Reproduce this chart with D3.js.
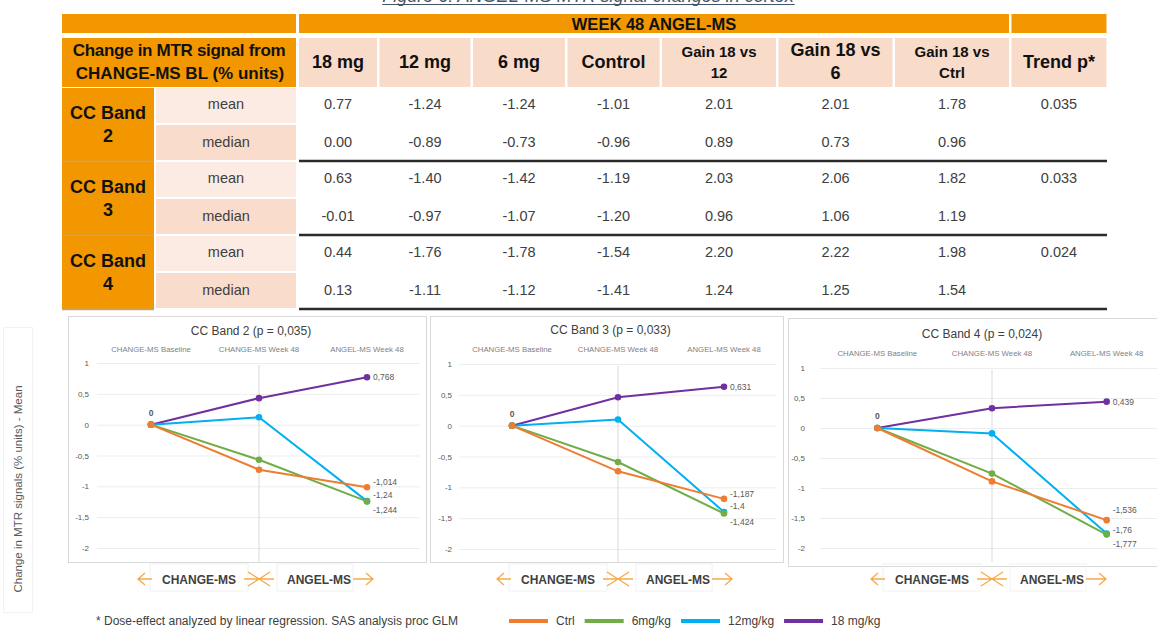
<!DOCTYPE html>
<html>
<head>
<meta charset="utf-8" />
<title>ANGEL-MS MTR signal changes in cortex</title>
<script src="https://cdn.jsdelivr.net/npm/d3@7"></script>
<style>
    body { margin: 0; background: #fff; }
    svg { display: block; font-family: "Liberation Sans", Arial, sans-serif; }
</style>
</head>
<body>
<svg id="chart" width="1157" height="628"></svg>
<script>
// ---- table values ----
var tableCols = ["18 mg", "12 mg", "6 mg", "Control", "Gain 18 vs|12", "Gain 18 vs|6", "Gain 18 vs|Ctrl", "Trend p*"];
var bands = ["2", "3", "4"];
var band2Mean = [0.77, -1.24, -1.24, -1.01, 2.01, 2.01, 1.78];
var band2Median = [0.00, -0.89, -0.73, -0.96, 0.89, 0.73, 0.96];
var band3Mean = [0.63, -1.40, -1.42, -1.19, 2.03, 2.06, 1.82];
var band3Median = [-0.01, -0.97, -1.07, -1.20, 0.96, 1.06, 1.19];
var band4Mean = [0.44, -1.76, -1.78, -1.54, 2.20, 2.22, 1.98];
var band4Median = [0.13, -1.11, -1.12, -1.41, 1.24, 1.25, 1.54];
var trendP = ["0.035", "0.033", "0.024"];

// ---- chart values (mean change, % units) ----
var timepoints = ["CHANGE-MS Baseline", "CHANGE-MS Week 48", "ANGEL-MS Week 48"];
var seriesNames = ["Ctrl", "6mg/kg", "12mg/kg", "18 mg/kg"];
var band2Lines = [[0, -0.73, -1.014], [0, -0.57, -1.244], [0, 0.12, -1.24], [0, 0.43, 0.768]];
var band3Lines = [[0, -0.74, -1.187], [0, -0.59, -1.424], [0, 0.10, -1.4], [0, 0.46, 0.631]];
var band4Lines = [[0, -0.89, -1.536], [0, -0.76, -1.777], [0, -0.09, -1.76], [0, 0.33, 0.439]];
var panelTitles = ["CC Band 2 (p = 0,035)", "CC Band 3 (p = 0,033)", "CC Band 4 (p = 0,024)"];
var yTicks = [1, 0.5, 0, -0.5, -1, -1.5, -2];

var colors = ["#ED7D31", "#70AD47", "#00B0F0", "#7030A0"];
var orange = "#F39700", peach = "#F9DBC9", meanFill = "#FCEBE3", medianFill = "#F9DCCB";
var textGrey = "#404040";

var svg = d3.select("#chart");
svg.append("rect").attr("width", 1157).attr("height", 628).attr("fill", "#fff");

// figure caption, mostly cut off at the top
var cap = svg.append("text").attr("x", 588).attr("y", 2).attr("text-anchor", "middle")
    .attr("font-size", 18).attr("font-style", "italic").attr("fill", "#44546A")
    .text("Figure 6: ANGEL-MS MTR signal changes in cortex");
var cb = cap.node().getBBox();
svg.append("line").attr("x1", cb.x).attr("x2", cb.x + cb.width).attr("y1", 4.5).attr("y2", 4.5)
    .attr("stroke", "#44546A").attr("stroke-width", 1.2);

// ---- table ----
var colW = [78, 91, 92, 92, 114, 114, 114, 95];
var colStart = [];
var acc = 299;
colW.forEach(function (w) { colStart.push(acc); acc += w + 2.5; });
var colMid = colStart.map(function (s, i) { return s + colW[i] / 2; });

// header row 1
svg.append("rect").attr("x", 62).attr("y", 14).attr("width", 234).attr("height", 19).attr("fill", orange);
svg.append("rect").attr("x", colStart[0]).attr("y", 14).attr("width", colStart[6] + colW[6] - colStart[0]).attr("height", 19).attr("fill", orange);
svg.append("rect").attr("x", colStart[7]).attr("y", 14).attr("width", colW[7]).attr("height", 19).attr("fill", orange);
svg.append("text").attr("x", (colStart[0] + colStart[6] + colW[6]) / 2).attr("y", 29.5)
    .attr("text-anchor", "middle").attr("font-weight", "bold").attr("font-size", 16.5).attr("fill", "#111")
    .text("WEEK 48 ANGEL-MS");

// header row 2
svg.append("rect").attr("x", 62).attr("y", 38).attr("width", 234).attr("height", 49).attr("fill", orange);
svg.append("text").attr("x", 179).attr("y", 56).attr("text-anchor", "middle").attr("font-weight", "bold")
    .attr("font-size", 17).attr("letter-spacing", -0.3).attr("fill", "#111").text("Change in MTR signal from");
svg.append("text").attr("x", 180).attr("y", 79).attr("text-anchor", "middle").attr("font-weight", "bold")
    .attr("font-size", 17).attr("fill", "#111").text("CHANGE-MS BL (% units)");

tableCols.forEach(function (c, i) {
    svg.append("rect").attr("x", colStart[i]).attr("y", 38).attr("width", colW[i]).attr("height", 49).attr("fill", peach);
    var parts = c.split("|");
    var fs = (i === 4 || i === 6) ? 15 : 18;
    if (parts.length === 1) {
        svg.append("text").attr("x", colMid[i]).attr("y", 68).attr("text-anchor", "middle")
            .attr("font-weight", "bold").attr("font-size", fs).attr("fill", "#111").text(parts[0]);
    } else {
        svg.append("text").attr("x", colMid[i]).attr("y", i === 5 ? 56 : 57).attr("text-anchor", "middle")
            .attr("font-weight", "bold").attr("font-size", fs).attr("fill", "#111").text(parts[0]);
        svg.append("text").attr("x", colMid[i]).attr("y", i === 5 ? 79 : 78).attr("text-anchor", "middle")
            .attr("font-weight", "bold").attr("font-size", fs).attr("fill", "#111").text(parts[1]);
    }
});

// body rows
var bandRows = [[band2Mean, band2Median], [band3Mean, band3Median], [band4Mean, band4Median]];
bandRows.forEach(function (rows, b) {
    var top = 88 + b * 74;
    svg.append("rect").attr("x", 62).attr("y", top).attr("width", 92).attr("height", 73).attr("fill", orange);
    svg.append("text").attr("x", 108).attr("y", top + 31).attr("text-anchor", "middle").attr("font-weight", "bold")
        .attr("font-size", 18).attr("fill", "#111").text("CC Band");
    svg.append("text").attr("x", 108).attr("y", top + 54).attr("text-anchor", "middle").attr("font-weight", "bold")
        .attr("font-size", 18).attr("fill", "#111").text(bands[b]);
    svg.append("line").attr("x1", 62).attr("x2", 154).attr("y1", top + 73.5).attr("y2", top + 73.5)
        .attr("stroke", "#A8A8A8").attr("stroke-width", 1.5);

    ["mean", "median"].forEach(function (lab, r) {
        var ry = top + r * 37;
        svg.append("rect").attr("x", 156).attr("y", ry).attr("width", 140).attr("height", 35)
            .attr("fill", r === 0 ? meanFill : medianFill);
        var cy = top + (r === 0 ? 16 : 54);
        svg.append("text").attr("x", 226).attr("y", cy + 5).attr("text-anchor", "middle")
            .attr("font-size", 14.5).attr("fill", textGrey).text(lab);
        rows[r].forEach(function (v, i) {
            svg.append("text").attr("x", colMid[i]).attr("y", cy + 5).attr("text-anchor", "middle")
                .attr("font-size", 14.5).attr("fill", textGrey).text(d3.format(".2f")(v).replace("−", "-"));
        });
        if (r === 0) {
            svg.append("text").attr("x", colMid[7]).attr("y", cy + 5).attr("text-anchor", "middle")
                .attr("font-size", 14.5).attr("fill", textGrey).text(trendP[b]);
        }
    });
    svg.append("line").attr("x1", 299).attr("x2", 1107).attr("y1", top + 73).attr("y2", top + 73)
        .attr("stroke", "#2a2a2a").attr("stroke-width", 2.5);
});

// ---- line panels ----
var panels = [
    { title: panelTitles[0], lines: band2Lines, box: [68, 316, 358, 246], xr: [97, 421], yr: [548, 363], gridEnd: 420, gap: 8, titleY: 335, catY: 352, labelDy: [-2, 12, -3, 3] },
    { title: panelTitles[1], lines: band3Lines, box: [430, 316, 353, 246], xr: [459, 777], yr: [549, 364], gridEnd: 776, gap: 7, titleY: 334, catY: 352, labelDy: [-2, 12, -3, 3] },
    { title: panelTitles[2], lines: band4Lines, box: [788, 318, 380, 248], xr: [820, 1164], yr: [548, 368], gridEnd: 1157, gap: 15, titleY: 338, catY: 356, labelDy: [-7, 12, -1, 3] }
];

function commaNum(v) { return String(v).replace(".", ","); }

panels.forEach(function (p) {
    var g = svg.append("g");
    g.append("rect").attr("x", p.box[0] + 0.5).attr("y", p.box[1] + 0.5).attr("width", p.box[2]).attr("height", p.box[3])
        .attr("fill", "#fff").attr("stroke", "#D9D9D9");

    var x = d3.scalePoint().domain(timepoints).range(p.xr).padding(0.5);
    var y = d3.scaleLinear().domain([-2, 1]).range(p.yr);

    // gridlines
    g.append("g").attr("transform", "translate(" + p.xr[0] + ",0)")
        .call(d3.axisLeft(y).tickValues(yTicks).tickSize(-(p.gridEnd - p.xr[0])).tickFormat(""))
        .call(function (s) { s.select(".domain").remove(); })
        .selectAll("line").attr("stroke", "#EDEDED");

    // tick labels
    var ax = g.append("g").attr("transform", "translate(" + (p.xr[0] - p.gap) + ",0)")
        .call(d3.axisLeft(y).tickValues(yTicks).tickSize(0).tickPadding(0).tickFormat(commaNum));
    ax.select(".domain").remove();
    ax.selectAll("text").attr("fill", "#595959").attr("font-size", 8)
        .attr("font-family", "'Liberation Sans', Arial, sans-serif");

    // divider at CHANGE-MS week 48
    var cx = x(timepoints[1]);
    g.append("line").attr("x1", cx).attr("x2", cx).attr("y1", p.yr[1] + 2).attr("y2", 562)
        .attr("stroke", "#D9D9D9");

    g.append("text").attr("x", p.box[0] + p.box[2] / 2 + 4).attr("y", p.titleY).attr("text-anchor", "middle")
        .attr("font-size", 12).attr("fill", textGrey).text(p.title);

    g.selectAll(".cat").data(timepoints).enter().append("text")
        .attr("x", function (d) { return x(d); }).attr("y", p.catY).attr("text-anchor", "middle")
        .attr("font-size", 7.8).attr("fill", "#7F7F7F").text(function (d) { return d; });

    var line = d3.line().x(function (d, i) { return x(timepoints[i]); }).y(function (d) { return y(d); });

    // drawn so that Ctrl ends on top, like the source
    for (var s = p.lines.length - 1; s >= 0; s--) {
        var vals = p.lines[s];
        g.append("path").datum(vals).attr("d", line).attr("fill", "none")
            .attr("stroke", colors[s]).attr("stroke-width", 2);
        g.selectAll(".pt" + s).data(vals).enter().append("circle")
            .attr("cx", function (d, i) { return x(timepoints[i]); })
            .attr("cy", function (d) { return y(d); })
            .attr("r", 3.3).attr("fill", colors[s]);
        var last = vals[vals.length - 1];
        g.append("text").attr("x", x(timepoints[2]) + 6).attr("y", y(last) + p.labelDy[s])
            .attr("font-size", 8.5).attr("fill", "#595959").text(commaNum(last));
    }
    g.append("text").attr("x", x(timepoints[0])).attr("y", y(0) - 9).attr("text-anchor", "middle")
        .attr("font-size", 8.5).attr("font-weight", "bold").attr("fill", "#595959").text("0");

    // CHANGE-MS <-> ANGEL-MS annotation under the panel
    var ya = 579, ac = "#F6A947";
    g.append("rect").attr("x", cx - 109).attr("y", 564).attr("width", 98).attr("height", 27)
        .attr("fill", "none").attr("stroke", "#F2F2F2");
    g.append("rect").attr("x", cx + 18).attr("y", 564).attr("width", 76).attr("height", 27)
        .attr("fill", "none").attr("stroke", "#F2F2F2");
    var a = g.append("g").attr("stroke", ac).attr("stroke-width", 1.3).attr("fill", "none");
    a.append("path").attr("d", "M" + (cx - 107) + "," + ya + "H" + (cx - 121) +
        "M" + (cx - 114) + "," + (ya - 6) + "L" + (cx - 121) + "," + ya + "L" + (cx - 114) + "," + (ya + 6));
    a.append("path").attr("d", "M" + (cx - 15) + "," + ya + "H" + (cx + 15) +
        "M" + (cx - 11) + "," + (ya - 7) + "L" + (cx + 11) + "," + (ya + 7) +
        "M" + (cx - 11) + "," + (ya + 7) + "L" + (cx + 11) + "," + (ya - 7));
    a.append("path").attr("d", "M" + (cx + 94) + "," + ya + "H" + (cx + 114) +
        "M" + (cx + 107) + "," + (ya - 6) + "L" + (cx + 114) + "," + ya + "L" + (cx + 107) + "," + (ya + 6));
    g.append("text").attr("x", cx - 60).attr("y", ya + 5).attr("text-anchor", "middle")
        .attr("font-weight", "bold").attr("font-size", 12).attr("fill", textGrey).text("CHANGE-MS");
    g.append("text").attr("x", cx + 60).attr("y", ya + 5).attr("text-anchor", "middle")
        .attr("font-weight", "bold").attr("font-size", 12).attr("fill", textGrey).text("ANGEL-MS");
});

// shared y axis title
svg.append("rect").attr("x", 3.5).attr("y", 327.5).attr("width", 29).attr("height", 285)
    .attr("fill", "none").attr("stroke", "#F2F2F2");
svg.append("text").attr("transform", "translate(22,489) rotate(-90)").attr("text-anchor", "middle")
    .attr("font-size", 11.5).attr("fill", "#595959").text("Change in MTR signals (% units) - Mean");

// footnote and legend
svg.append("text").attr("x", 96).attr("y", 625).attr("font-size", 12).attr("fill", textGrey)
    .text("* Dose-effect analyzed by linear regression. SAS analysis proc GLM");

var lx = 509;
seriesNames.forEach(function (n, i) {
    svg.append("line").attr("x1", lx).attr("x2", lx + 39).attr("y1", 621).attr("y2", 621)
        .attr("stroke", colors[i]).attr("stroke-width", 4);
    var t = svg.append("text").attr("x", lx + 47).attr("y", 625).attr("font-size", 12)
        .attr("fill", textGrey).text(n);
    lx += 47 + t.node().getComputedTextLength() + 10;
});
</script>
</body>
</html>
